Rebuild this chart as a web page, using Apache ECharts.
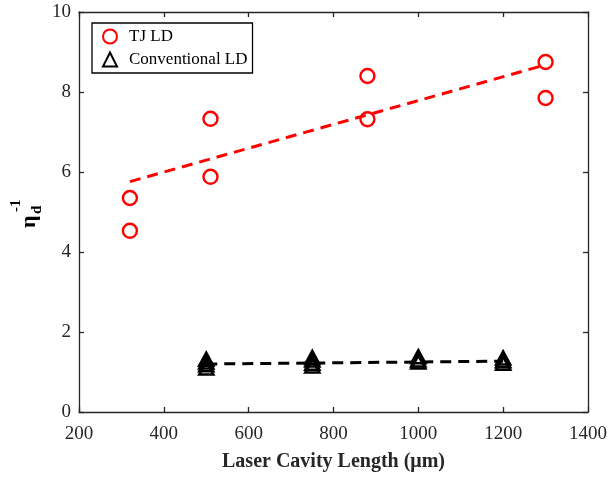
<!DOCTYPE html>
<html>
<head>
<meta charset="utf-8">
<script src="https://cdn.jsdelivr.net/npm/echarts@6/dist/echarts.min.js"></script>
<style>
  html, body { margin: 0; padding: 0; background: #fff; }
  #chart { width: 610px; height: 477px; }
</style>
</head>
<body>
<div id="chart"></div>
<script>
// Inverse differential efficiency vs. laser cavity length
const xTicks = [200, 400, 600, 800, 1000, 1200, 1400];
const yTicks = [0, 2, 4, 6, 8, 10];

// TJ LD measurements
const tjX = [320, 320, 510, 510, 880, 880, 1300, 1300];
const tjY = [5.35, 4.53, 7.33, 5.88, 8.40, 7.32, 8.75, 7.85];
// TJ LD linear fit end points
const tjFitX = [320, 1300];
const tjFitY = [5.76, 8.68];

// Conventional LD measurements
const convX = [500, 500, 500, 500, 750, 750, 750, 750, 1000, 1000, 1000, 1200, 1200, 1200];
const convY = [1.10, 1.18, 1.25, 1.32, 1.15, 1.22, 1.30, 1.36, 1.25, 1.30, 1.38, 1.22, 1.28, 1.35];
// Conventional LD linear fit end points
const convFitX = [500, 1200];
const convFitY = [1.20, 1.27];

const zip = (xs, ys) => xs.map((x, i) => [x, ys[i]]);

const axisColor = '#262626';
const serif = '"Liberation Serif", "Times New Roman", serif';

const chart = echarts.init(document.getElementById('chart'), null, { renderer: 'canvas' });

const xBase = {
  type: 'value', min: xTicks[0], max: xTicks[xTicks.length - 1], interval: 200,
  axisLine: { show: true, onZero: false, lineStyle: { color: axisColor, width: 1.3 } },
  axisTick: { show: true, inside: true, length: 5, lineStyle: { color: axisColor, width: 1.3 } },
  splitLine: { show: false }
};
const yBase = {
  type: 'value', min: yTicks[0], max: yTicks[yTicks.length - 1], interval: 2,
  axisLine: { show: true, onZero: false, lineStyle: { color: axisColor, width: 1.3 } },
  axisTick: { show: true, inside: true, length: 5, lineStyle: { color: axisColor, width: 1.3 } },
  splitLine: { show: false }
};

chart.setOption({
  animation: false,
  backgroundColor: '#fff',
  grid: { left: 79, right: 21, top: 12, bottom: 64, containLabel: false },
  xAxis: [
    Object.assign({}, xBase, {
      position: 'bottom',
      axisLabel: { color: axisColor, fontFamily: serif, fontSize: 19, margin: 13, formatter: v => String(v) },
      name: 'Laser Cavity Length (μm)',
      nameLocation: 'middle', nameGap: 40,
      nameTextStyle: { color: axisColor, fontFamily: serif, fontSize: 20, fontWeight: 'bold' }
    }),
    Object.assign({}, xBase, { position: 'top', axisLabel: { show: false } })
  ],
  yAxis: [
    Object.assign({}, yBase, {
      position: 'left',
      axisLabel: { color: axisColor, fontFamily: serif, fontSize: 19, margin: 8, formatter: v => String(v) }
    }),
    Object.assign({}, yBase, { position: 'right', axisLabel: { show: false } })
  ],
  legend: {
    data: ['TJ LD', 'Conventional LD'],
    orient: 'vertical', left: 92, top: 23,
    padding: [5, 5, 5, 10],
    itemWidth: 14, itemHeight: 14, itemGap: 6,
    borderColor: '#000', borderWidth: 1.3, backgroundColor: '#fff',
    textStyle: { color: '#000', fontFamily: serif, fontSize: 17, padding: [0, 0, 0, 7] }
  },
  graphic: [{
    type: 'group', x: 29, y: 228, rotation: Math.PI / 2, silent: true,
    children: [
      { type: 'text', x: 0, y: 0, style: { text: 'η', font: 'bold 22px ' + serif, fill: '#000', align: 'left', verticalAlign: 'middle' } },
      { type: 'text', x: 14, y: 8, style: { text: 'd', font: 'bold 15px ' + serif, fill: '#000', align: 'left', verticalAlign: 'middle' } },
      { type: 'text', x: 16, y: -13, style: { text: '-1', font: 'bold 15px ' + serif, fill: '#000', align: 'left', verticalAlign: 'middle' } }
    ]
  }],
  series: [
    {
      name: 'TJ LD', type: 'scatter', data: zip(tjX, tjY),
      symbol: 'circle', symbolSize: 14, z: 3,
      itemStyle: { color: 'rgba(255,255,255,0)', borderColor: '#ff0000', borderWidth: 2.4, opacity: 1 }
    },
    {
      name: 'TJ fit', type: 'line', data: zip(tjFitX, tjFitY),
      showSymbol: false, symbol: 'none', z: 2,
      lineStyle: { color: '#ff0000', width: 3, type: [11, 7] }
    },
    {
      name: 'Conventional LD', type: 'scatter', data: zip(convX, convY),
      symbol: 'triangle', symbolSize: [14, 13], z: 3,
      itemStyle: { color: 'rgba(255,255,255,0)', borderColor: '#000', borderWidth: 2.6, opacity: 1 }
    },
    {
      name: 'Conventional fit', type: 'line', data: zip(convFitX, convFitY),
      showSymbol: false, symbol: 'none', z: 2,
      lineStyle: { color: '#000', width: 3, type: [11, 7] }
    }
  ]
});
</script>
</body>
</html>
